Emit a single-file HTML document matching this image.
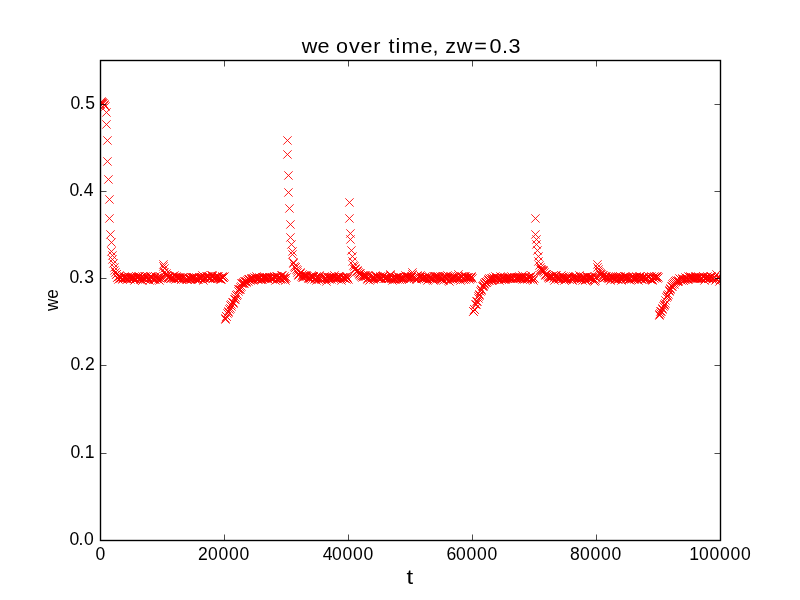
<!DOCTYPE html>
<html><head><meta charset="utf-8"><style>
html,body{margin:0;padding:0;background:#fff;width:800px;height:600px;overflow:hidden}
svg{display:block;will-change:transform}
text{font-family:"Liberation Sans",sans-serif;fill:#000}
</style></head><body>
<svg width="800" height="600" viewBox="0 0 800 600">
<rect width="800" height="600" fill="#fff"/>
<defs><clipPath id="ax"><rect x="100" y="60" width="620" height="480"/></clipPath></defs>
<path clip-path="url(#ax)" fill="none" stroke="#f00" stroke-width="0.88" d="M96.3 100.3l8.33 8.33m0 -8.33l-8.33 8.33M97.3 98.3l8.33 8.33m0 -8.33l-8.33 8.33M97.3 97.3l8.33 8.33m0 -8.33l-8.33 8.33M98.3 98.3l8.33 8.33m0 -8.33l-8.33 8.33M98.3 99.3l8.33 8.33m0 -8.33l-8.33 8.33M99.3 99.3l8.33 8.33m0 -8.33l-8.33 8.33M100.3 100.3l8.33 8.33m0 -8.33l-8.33 8.33M100.3 101.3l8.33 8.33m0 -8.33l-8.33 8.33M101.3 102.3l8.33 8.33m0 -8.33l-8.33 8.33M102.3 108.3l8.33 8.33m0 -8.33l-8.33 8.33M102.3 120.3l8.33 8.33m0 -8.33l-8.33 8.33M103.3 136.3l8.33 8.33m0 -8.33l-8.33 8.33M103.3 157.3l8.33 8.33m0 -8.33l-8.33 8.33M104.3 175.3l8.33 8.33m0 -8.33l-8.33 8.33M105.3 195.3l8.33 8.33m0 -8.33l-8.33 8.33M105.3 214.3l8.33 8.33m0 -8.33l-8.33 8.33M106.3 230.3l8.33 8.33m0 -8.33l-8.33 8.33M107.3 238.3l8.33 8.33m0 -8.33l-8.33 8.33M107.3 247.3l8.33 8.33m0 -8.33l-8.33 8.33M108.3 251.3l8.33 8.33m0 -8.33l-8.33 8.33M108.3 255.3l8.33 8.33m0 -8.33l-8.33 8.33M109.3 259.3l8.33 8.33m0 -8.33l-8.33 8.33M110.3 263.3l8.33 8.33m0 -8.33l-8.33 8.33M110.3 266.3l8.33 8.33m0 -8.33l-8.33 8.33M111.3 268.3l8.33 8.33m0 -8.33l-8.33 8.33M112.3 270.3l8.33 8.33m0 -8.33l-8.33 8.33M112.3 270.3l8.33 8.33m0 -8.33l-8.33 8.33M113.3 273.3l8.33 8.33m0 -8.33l-8.33 8.33M113.3 273.3l8.33 8.33m0 -8.33l-8.33 8.33M114.3 275.3l8.33 8.33m0 -8.33l-8.33 8.33M115.3 271.3l8.33 8.33m0 -8.33l-8.33 8.33M115.3 272.3l8.33 8.33m0 -8.33l-8.33 8.33M116.3 274.3l8.33 8.33m0 -8.33l-8.33 8.33M116.3 273.3l8.33 8.33m0 -8.33l-8.33 8.33M117.3 273.3l8.33 8.33m0 -8.33l-8.33 8.33M118.3 275.3l8.33 8.33m0 -8.33l-8.33 8.33M118.3 274.3l8.33 8.33m0 -8.33l-8.33 8.33M119.3 273.3l8.33 8.33m0 -8.33l-8.33 8.33M120.3 273.3l8.33 8.33m0 -8.33l-8.33 8.33M120.3 272.3l8.33 8.33m0 -8.33l-8.33 8.33M121.3 273.3l8.33 8.33m0 -8.33l-8.33 8.33M121.3 274.3l8.33 8.33m0 -8.33l-8.33 8.33M122.3 273.3l8.33 8.33m0 -8.33l-8.33 8.33M123.3 274.3l8.33 8.33m0 -8.33l-8.33 8.33M123.3 275.3l8.33 8.33m0 -8.33l-8.33 8.33M124.3 272.3l8.33 8.33m0 -8.33l-8.33 8.33M125.3 274.3l8.33 8.33m0 -8.33l-8.33 8.33M125.3 273.3l8.33 8.33m0 -8.33l-8.33 8.33M126.3 273.3l8.33 8.33m0 -8.33l-8.33 8.33M126.3 275.3l8.33 8.33m0 -8.33l-8.33 8.33M127.3 273.3l8.33 8.33m0 -8.33l-8.33 8.33M128.3 273.3l8.33 8.33m0 -8.33l-8.33 8.33M128.3 274.3l8.33 8.33m0 -8.33l-8.33 8.33M129.3 273.3l8.33 8.33m0 -8.33l-8.33 8.33M129.3 274.3l8.33 8.33m0 -8.33l-8.33 8.33M130.3 276.3l8.33 8.33m0 -8.33l-8.33 8.33M131.3 274.3l8.33 8.33m0 -8.33l-8.33 8.33M131.3 275.3l8.33 8.33m0 -8.33l-8.33 8.33M132.3 272.3l8.33 8.33m0 -8.33l-8.33 8.33M133.3 273.3l8.33 8.33m0 -8.33l-8.33 8.33M133.3 274.3l8.33 8.33m0 -8.33l-8.33 8.33M134.3 273.3l8.33 8.33m0 -8.33l-8.33 8.33M134.3 272.3l8.33 8.33m0 -8.33l-8.33 8.33M135.3 272.3l8.33 8.33m0 -8.33l-8.33 8.33M136.3 273.3l8.33 8.33m0 -8.33l-8.33 8.33M136.3 275.3l8.33 8.33m0 -8.33l-8.33 8.33M137.3 273.3l8.33 8.33m0 -8.33l-8.33 8.33M138.3 272.3l8.33 8.33m0 -8.33l-8.33 8.33M138.3 276.3l8.33 8.33m0 -8.33l-8.33 8.33M139.3 274.3l8.33 8.33m0 -8.33l-8.33 8.33M139.3 273.3l8.33 8.33m0 -8.33l-8.33 8.33M140.3 274.3l8.33 8.33m0 -8.33l-8.33 8.33M141.3 272.3l8.33 8.33m0 -8.33l-8.33 8.33M141.3 275.3l8.33 8.33m0 -8.33l-8.33 8.33M142.3 273.3l8.33 8.33m0 -8.33l-8.33 8.33M143.3 275.3l8.33 8.33m0 -8.33l-8.33 8.33M143.3 272.3l8.33 8.33m0 -8.33l-8.33 8.33M144.3 274.3l8.33 8.33m0 -8.33l-8.33 8.33M144.3 274.3l8.33 8.33m0 -8.33l-8.33 8.33M145.3 276.3l8.33 8.33m0 -8.33l-8.33 8.33M146.3 272.3l8.33 8.33m0 -8.33l-8.33 8.33M146.3 273.3l8.33 8.33m0 -8.33l-8.33 8.33M147.3 273.3l8.33 8.33m0 -8.33l-8.33 8.33M147.3 272.3l8.33 8.33m0 -8.33l-8.33 8.33M148.3 273.3l8.33 8.33m0 -8.33l-8.33 8.33M149.3 274.3l8.33 8.33m0 -8.33l-8.33 8.33M149.3 275.3l8.33 8.33m0 -8.33l-8.33 8.33M150.3 275.3l8.33 8.33m0 -8.33l-8.33 8.33M151.3 272.3l8.33 8.33m0 -8.33l-8.33 8.33M151.3 275.3l8.33 8.33m0 -8.33l-8.33 8.33M152.3 274.3l8.33 8.33m0 -8.33l-8.33 8.33M152.3 274.3l8.33 8.33m0 -8.33l-8.33 8.33M153.3 273.3l8.33 8.33m0 -8.33l-8.33 8.33M154.3 273.3l8.33 8.33m0 -8.33l-8.33 8.33M154.3 275.3l8.33 8.33m0 -8.33l-8.33 8.33M155.3 276.3l8.33 8.33m0 -8.33l-8.33 8.33M156.3 274.3l8.33 8.33m0 -8.33l-8.33 8.33M156.3 272.3l8.33 8.33m0 -8.33l-8.33 8.33M157.3 273.3l8.33 8.33m0 -8.33l-8.33 8.33M157.3 273.3l8.33 8.33m0 -8.33l-8.33 8.33M158.3 274.3l8.33 8.33m0 -8.33l-8.33 8.33M159.3 260.3l8.33 8.33m0 -8.33l-8.33 8.33M159.3 262.3l8.33 8.33m0 -8.33l-8.33 8.33M160.3 264.3l8.33 8.33m0 -8.33l-8.33 8.33M160.3 268.3l8.33 8.33m0 -8.33l-8.33 8.33M161.3 270.3l8.33 8.33m0 -8.33l-8.33 8.33M162.3 271.3l8.33 8.33m0 -8.33l-8.33 8.33M162.3 269.3l8.33 8.33m0 -8.33l-8.33 8.33M163.3 271.3l8.33 8.33m0 -8.33l-8.33 8.33M164.3 272.3l8.33 8.33m0 -8.33l-8.33 8.33M164.3 273.3l8.33 8.33m0 -8.33l-8.33 8.33M165.3 272.3l8.33 8.33m0 -8.33l-8.33 8.33M165.3 273.3l8.33 8.33m0 -8.33l-8.33 8.33M166.3 274.3l8.33 8.33m0 -8.33l-8.33 8.33M167.3 274.3l8.33 8.33m0 -8.33l-8.33 8.33M167.3 273.3l8.33 8.33m0 -8.33l-8.33 8.33M168.3 272.3l8.33 8.33m0 -8.33l-8.33 8.33M169.3 274.3l8.33 8.33m0 -8.33l-8.33 8.33M169.3 273.3l8.33 8.33m0 -8.33l-8.33 8.33M170.3 271.3l8.33 8.33m0 -8.33l-8.33 8.33M170.3 274.3l8.33 8.33m0 -8.33l-8.33 8.33M171.3 275.3l8.33 8.33m0 -8.33l-8.33 8.33M172.3 272.3l8.33 8.33m0 -8.33l-8.33 8.33M172.3 273.3l8.33 8.33m0 -8.33l-8.33 8.33M173.3 274.3l8.33 8.33m0 -8.33l-8.33 8.33M174.3 273.3l8.33 8.33m0 -8.33l-8.33 8.33M174.3 274.3l8.33 8.33m0 -8.33l-8.33 8.33M175.3 273.3l8.33 8.33m0 -8.33l-8.33 8.33M175.3 274.3l8.33 8.33m0 -8.33l-8.33 8.33M176.3 273.3l8.33 8.33m0 -8.33l-8.33 8.33M177.3 275.3l8.33 8.33m0 -8.33l-8.33 8.33M177.3 275.3l8.33 8.33m0 -8.33l-8.33 8.33M178.3 273.3l8.33 8.33m0 -8.33l-8.33 8.33M178.3 274.3l8.33 8.33m0 -8.33l-8.33 8.33M179.3 273.3l8.33 8.33m0 -8.33l-8.33 8.33M180.3 274.3l8.33 8.33m0 -8.33l-8.33 8.33M180.3 274.3l8.33 8.33m0 -8.33l-8.33 8.33M181.3 273.3l8.33 8.33m0 -8.33l-8.33 8.33M182.3 274.3l8.33 8.33m0 -8.33l-8.33 8.33M182.3 275.3l8.33 8.33m0 -8.33l-8.33 8.33M183.3 275.3l8.33 8.33m0 -8.33l-8.33 8.33M183.3 275.3l8.33 8.33m0 -8.33l-8.33 8.33M184.3 274.3l8.33 8.33m0 -8.33l-8.33 8.33M185.3 274.3l8.33 8.33m0 -8.33l-8.33 8.33M185.3 274.3l8.33 8.33m0 -8.33l-8.33 8.33M186.3 275.3l8.33 8.33m0 -8.33l-8.33 8.33M187.3 275.3l8.33 8.33m0 -8.33l-8.33 8.33M187.3 273.3l8.33 8.33m0 -8.33l-8.33 8.33M188.3 273.3l8.33 8.33m0 -8.33l-8.33 8.33M188.3 274.3l8.33 8.33m0 -8.33l-8.33 8.33M189.3 273.3l8.33 8.33m0 -8.33l-8.33 8.33M190.3 273.3l8.33 8.33m0 -8.33l-8.33 8.33M190.3 273.3l8.33 8.33m0 -8.33l-8.33 8.33M191.3 275.3l8.33 8.33m0 -8.33l-8.33 8.33M191.3 274.3l8.33 8.33m0 -8.33l-8.33 8.33M192.3 273.3l8.33 8.33m0 -8.33l-8.33 8.33M193.3 275.3l8.33 8.33m0 -8.33l-8.33 8.33M193.3 274.3l8.33 8.33m0 -8.33l-8.33 8.33M194.3 275.3l8.33 8.33m0 -8.33l-8.33 8.33M195.3 274.3l8.33 8.33m0 -8.33l-8.33 8.33M195.3 273.3l8.33 8.33m0 -8.33l-8.33 8.33M196.3 274.3l8.33 8.33m0 -8.33l-8.33 8.33M196.3 274.3l8.33 8.33m0 -8.33l-8.33 8.33M197.3 273.3l8.33 8.33m0 -8.33l-8.33 8.33M198.3 273.3l8.33 8.33m0 -8.33l-8.33 8.33M198.3 271.3l8.33 8.33m0 -8.33l-8.33 8.33M199.3 276.3l8.33 8.33m0 -8.33l-8.33 8.33M200.3 273.3l8.33 8.33m0 -8.33l-8.33 8.33M200.3 274.3l8.33 8.33m0 -8.33l-8.33 8.33M201.3 273.3l8.33 8.33m0 -8.33l-8.33 8.33M201.3 273.3l8.33 8.33m0 -8.33l-8.33 8.33M202.3 272.3l8.33 8.33m0 -8.33l-8.33 8.33M203.3 272.3l8.33 8.33m0 -8.33l-8.33 8.33M203.3 273.3l8.33 8.33m0 -8.33l-8.33 8.33M204.3 272.3l8.33 8.33m0 -8.33l-8.33 8.33M205.3 274.3l8.33 8.33m0 -8.33l-8.33 8.33M205.3 274.3l8.33 8.33m0 -8.33l-8.33 8.33M206.3 273.3l8.33 8.33m0 -8.33l-8.33 8.33M206.3 274.3l8.33 8.33m0 -8.33l-8.33 8.33M207.3 271.3l8.33 8.33m0 -8.33l-8.33 8.33M208.3 272.3l8.33 8.33m0 -8.33l-8.33 8.33M208.3 271.3l8.33 8.33m0 -8.33l-8.33 8.33M209.3 274.3l8.33 8.33m0 -8.33l-8.33 8.33M209.3 274.3l8.33 8.33m0 -8.33l-8.33 8.33M210.3 273.3l8.33 8.33m0 -8.33l-8.33 8.33M211.3 273.3l8.33 8.33m0 -8.33l-8.33 8.33M211.3 274.3l8.33 8.33m0 -8.33l-8.33 8.33M212.3 273.3l8.33 8.33m0 -8.33l-8.33 8.33M213.3 274.3l8.33 8.33m0 -8.33l-8.33 8.33M213.3 272.3l8.33 8.33m0 -8.33l-8.33 8.33M214.3 274.3l8.33 8.33m0 -8.33l-8.33 8.33M214.3 272.3l8.33 8.33m0 -8.33l-8.33 8.33M215.3 274.3l8.33 8.33m0 -8.33l-8.33 8.33M216.3 275.3l8.33 8.33m0 -8.33l-8.33 8.33M216.3 274.3l8.33 8.33m0 -8.33l-8.33 8.33M217.3 275.3l8.33 8.33m0 -8.33l-8.33 8.33M218.3 273.3l8.33 8.33m0 -8.33l-8.33 8.33M218.3 272.3l8.33 8.33m0 -8.33l-8.33 8.33M219.3 273.3l8.33 8.33m0 -8.33l-8.33 8.33M219.3 273.3l8.33 8.33m0 -8.33l-8.33 8.33M220.3 272.3l8.33 8.33m0 -8.33l-8.33 8.33M221.3 315.3l8.33 8.33m0 -8.33l-8.33 8.33M221.3 314.3l8.33 8.33m0 -8.33l-8.33 8.33M222.3 312.3l8.33 8.33m0 -8.33l-8.33 8.33M222.3 312.3l8.33 8.33m0 -8.33l-8.33 8.33M223.3 309.3l8.33 8.33m0 -8.33l-8.33 8.33M224.3 308.3l8.33 8.33m0 -8.33l-8.33 8.33M224.3 307.3l8.33 8.33m0 -8.33l-8.33 8.33M225.3 305.3l8.33 8.33m0 -8.33l-8.33 8.33M226.3 304.3l8.33 8.33m0 -8.33l-8.33 8.33M226.3 301.3l8.33 8.33m0 -8.33l-8.33 8.33M227.3 300.3l8.33 8.33m0 -8.33l-8.33 8.33M227.3 302.3l8.33 8.33m0 -8.33l-8.33 8.33M228.3 298.3l8.33 8.33m0 -8.33l-8.33 8.33M229.3 299.3l8.33 8.33m0 -8.33l-8.33 8.33M229.3 298.3l8.33 8.33m0 -8.33l-8.33 8.33M230.3 295.3l8.33 8.33m0 -8.33l-8.33 8.33M231.3 295.3l8.33 8.33m0 -8.33l-8.33 8.33M231.3 293.3l8.33 8.33m0 -8.33l-8.33 8.33M232.3 291.3l8.33 8.33m0 -8.33l-8.33 8.33M232.3 291.3l8.33 8.33m0 -8.33l-8.33 8.33M233.3 290.3l8.33 8.33m0 -8.33l-8.33 8.33M234.3 287.3l8.33 8.33m0 -8.33l-8.33 8.33M234.3 285.3l8.33 8.33m0 -8.33l-8.33 8.33M235.3 285.3l8.33 8.33m0 -8.33l-8.33 8.33M236.3 285.3l8.33 8.33m0 -8.33l-8.33 8.33M236.3 283.3l8.33 8.33m0 -8.33l-8.33 8.33M237.3 282.3l8.33 8.33m0 -8.33l-8.33 8.33M237.3 279.3l8.33 8.33m0 -8.33l-8.33 8.33M238.3 279.3l8.33 8.33m0 -8.33l-8.33 8.33M239.3 279.3l8.33 8.33m0 -8.33l-8.33 8.33M239.3 278.3l8.33 8.33m0 -8.33l-8.33 8.33M240.3 279.3l8.33 8.33m0 -8.33l-8.33 8.33M240.3 277.3l8.33 8.33m0 -8.33l-8.33 8.33M241.3 277.3l8.33 8.33m0 -8.33l-8.33 8.33M242.3 278.3l8.33 8.33m0 -8.33l-8.33 8.33M242.3 277.3l8.33 8.33m0 -8.33l-8.33 8.33M243.3 276.3l8.33 8.33m0 -8.33l-8.33 8.33M244.3 277.3l8.33 8.33m0 -8.33l-8.33 8.33M244.3 275.3l8.33 8.33m0 -8.33l-8.33 8.33M245.3 275.3l8.33 8.33m0 -8.33l-8.33 8.33M245.3 275.3l8.33 8.33m0 -8.33l-8.33 8.33M246.3 276.3l8.33 8.33m0 -8.33l-8.33 8.33M247.3 275.3l8.33 8.33m0 -8.33l-8.33 8.33M247.3 274.3l8.33 8.33m0 -8.33l-8.33 8.33M248.3 274.3l8.33 8.33m0 -8.33l-8.33 8.33M249.3 276.3l8.33 8.33m0 -8.33l-8.33 8.33M249.3 274.3l8.33 8.33m0 -8.33l-8.33 8.33M250.3 273.3l8.33 8.33m0 -8.33l-8.33 8.33M250.3 275.3l8.33 8.33m0 -8.33l-8.33 8.33M251.3 274.3l8.33 8.33m0 -8.33l-8.33 8.33M252.3 272.3l8.33 8.33m0 -8.33l-8.33 8.33M252.3 274.3l8.33 8.33m0 -8.33l-8.33 8.33M253.3 274.3l8.33 8.33m0 -8.33l-8.33 8.33M253.3 275.3l8.33 8.33m0 -8.33l-8.33 8.33M254.3 275.3l8.33 8.33m0 -8.33l-8.33 8.33M255.3 273.3l8.33 8.33m0 -8.33l-8.33 8.33M255.3 274.3l8.33 8.33m0 -8.33l-8.33 8.33M256.3 275.3l8.33 8.33m0 -8.33l-8.33 8.33M257.3 275.3l8.33 8.33m0 -8.33l-8.33 8.33M257.3 274.3l8.33 8.33m0 -8.33l-8.33 8.33M258.3 273.3l8.33 8.33m0 -8.33l-8.33 8.33M258.3 275.3l8.33 8.33m0 -8.33l-8.33 8.33M259.3 273.3l8.33 8.33m0 -8.33l-8.33 8.33M260.3 274.3l8.33 8.33m0 -8.33l-8.33 8.33M260.3 273.3l8.33 8.33m0 -8.33l-8.33 8.33M261.3 273.3l8.33 8.33m0 -8.33l-8.33 8.33M262.3 273.3l8.33 8.33m0 -8.33l-8.33 8.33M262.3 274.3l8.33 8.33m0 -8.33l-8.33 8.33M263.3 274.3l8.33 8.33m0 -8.33l-8.33 8.33M263.3 273.3l8.33 8.33m0 -8.33l-8.33 8.33M264.3 275.3l8.33 8.33m0 -8.33l-8.33 8.33M265.3 273.3l8.33 8.33m0 -8.33l-8.33 8.33M265.3 273.3l8.33 8.33m0 -8.33l-8.33 8.33M266.3 273.3l8.33 8.33m0 -8.33l-8.33 8.33M267.3 274.3l8.33 8.33m0 -8.33l-8.33 8.33M267.3 274.3l8.33 8.33m0 -8.33l-8.33 8.33M268.3 273.3l8.33 8.33m0 -8.33l-8.33 8.33M268.3 274.3l8.33 8.33m0 -8.33l-8.33 8.33M269.3 274.3l8.33 8.33m0 -8.33l-8.33 8.33M270.3 273.3l8.33 8.33m0 -8.33l-8.33 8.33M270.3 272.3l8.33 8.33m0 -8.33l-8.33 8.33M271.3 276.3l8.33 8.33m0 -8.33l-8.33 8.33M271.3 273.3l8.33 8.33m0 -8.33l-8.33 8.33M272.3 272.3l8.33 8.33m0 -8.33l-8.33 8.33M273.3 275.3l8.33 8.33m0 -8.33l-8.33 8.33M273.3 272.3l8.33 8.33m0 -8.33l-8.33 8.33M274.3 273.3l8.33 8.33m0 -8.33l-8.33 8.33M275.3 274.3l8.33 8.33m0 -8.33l-8.33 8.33M275.3 273.3l8.33 8.33m0 -8.33l-8.33 8.33M276.3 275.3l8.33 8.33m0 -8.33l-8.33 8.33M276.3 274.3l8.33 8.33m0 -8.33l-8.33 8.33M277.3 271.3l8.33 8.33m0 -8.33l-8.33 8.33M278.3 275.3l8.33 8.33m0 -8.33l-8.33 8.33M278.3 271.3l8.33 8.33m0 -8.33l-8.33 8.33M279.3 274.3l8.33 8.33m0 -8.33l-8.33 8.33M280.3 272.3l8.33 8.33m0 -8.33l-8.33 8.33M280.3 274.3l8.33 8.33m0 -8.33l-8.33 8.33M281.3 276.3l8.33 8.33m0 -8.33l-8.33 8.33M281.3 274.3l8.33 8.33m0 -8.33l-8.33 8.33M282.3 273.3l8.33 8.33m0 -8.33l-8.33 8.33M283.3 136.3l8.33 8.33m0 -8.33l-8.33 8.33M283.3 150.3l8.33 8.33m0 -8.33l-8.33 8.33M284.3 171.3l8.33 8.33m0 -8.33l-8.33 8.33M284.3 188.3l8.33 8.33m0 -8.33l-8.33 8.33M285.3 204.3l8.33 8.33m0 -8.33l-8.33 8.33M286.3 220.3l8.33 8.33m0 -8.33l-8.33 8.33M286.3 233.3l8.33 8.33m0 -8.33l-8.33 8.33M287.3 240.3l8.33 8.33m0 -8.33l-8.33 8.33M288.3 247.3l8.33 8.33m0 -8.33l-8.33 8.33M288.3 250.3l8.33 8.33m0 -8.33l-8.33 8.33M289.3 258.3l8.33 8.33m0 -8.33l-8.33 8.33M289.3 259.3l8.33 8.33m0 -8.33l-8.33 8.33M290.3 262.3l8.33 8.33m0 -8.33l-8.33 8.33M291.3 263.3l8.33 8.33m0 -8.33l-8.33 8.33M291.3 263.3l8.33 8.33m0 -8.33l-8.33 8.33M292.3 265.3l8.33 8.33m0 -8.33l-8.33 8.33M293.3 266.3l8.33 8.33m0 -8.33l-8.33 8.33M293.3 268.3l8.33 8.33m0 -8.33l-8.33 8.33M294.3 270.3l8.33 8.33m0 -8.33l-8.33 8.33M294.3 271.3l8.33 8.33m0 -8.33l-8.33 8.33M295.3 270.3l8.33 8.33m0 -8.33l-8.33 8.33M296.3 268.3l8.33 8.33m0 -8.33l-8.33 8.33M296.3 269.3l8.33 8.33m0 -8.33l-8.33 8.33M297.3 272.3l8.33 8.33m0 -8.33l-8.33 8.33M298.3 273.3l8.33 8.33m0 -8.33l-8.33 8.33M298.3 270.3l8.33 8.33m0 -8.33l-8.33 8.33M299.3 271.3l8.33 8.33m0 -8.33l-8.33 8.33M299.3 273.3l8.33 8.33m0 -8.33l-8.33 8.33M300.3 271.3l8.33 8.33m0 -8.33l-8.33 8.33M301.3 272.3l8.33 8.33m0 -8.33l-8.33 8.33M301.3 271.3l8.33 8.33m0 -8.33l-8.33 8.33M302.3 272.3l8.33 8.33m0 -8.33l-8.33 8.33M302.3 271.3l8.33 8.33m0 -8.33l-8.33 8.33M303.3 272.3l8.33 8.33m0 -8.33l-8.33 8.33M304.3 274.3l8.33 8.33m0 -8.33l-8.33 8.33M304.3 273.3l8.33 8.33m0 -8.33l-8.33 8.33M305.3 274.3l8.33 8.33m0 -8.33l-8.33 8.33M306.3 272.3l8.33 8.33m0 -8.33l-8.33 8.33M306.3 274.3l8.33 8.33m0 -8.33l-8.33 8.33M307.3 275.3l8.33 8.33m0 -8.33l-8.33 8.33M307.3 272.3l8.33 8.33m0 -8.33l-8.33 8.33M308.3 272.3l8.33 8.33m0 -8.33l-8.33 8.33M309.3 272.3l8.33 8.33m0 -8.33l-8.33 8.33M309.3 272.3l8.33 8.33m0 -8.33l-8.33 8.33M310.3 275.3l8.33 8.33m0 -8.33l-8.33 8.33M311.3 274.3l8.33 8.33m0 -8.33l-8.33 8.33M311.3 274.3l8.33 8.33m0 -8.33l-8.33 8.33M312.3 273.3l8.33 8.33m0 -8.33l-8.33 8.33M312.3 276.3l8.33 8.33m0 -8.33l-8.33 8.33M313.3 273.3l8.33 8.33m0 -8.33l-8.33 8.33M314.3 275.3l8.33 8.33m0 -8.33l-8.33 8.33M314.3 273.3l8.33 8.33m0 -8.33l-8.33 8.33M315.3 273.3l8.33 8.33m0 -8.33l-8.33 8.33M315.3 271.3l8.33 8.33m0 -8.33l-8.33 8.33M316.3 274.3l8.33 8.33m0 -8.33l-8.33 8.33M317.3 275.3l8.33 8.33m0 -8.33l-8.33 8.33M317.3 273.3l8.33 8.33m0 -8.33l-8.33 8.33M318.3 274.3l8.33 8.33m0 -8.33l-8.33 8.33M319.3 273.3l8.33 8.33m0 -8.33l-8.33 8.33M319.3 273.3l8.33 8.33m0 -8.33l-8.33 8.33M320.3 272.3l8.33 8.33m0 -8.33l-8.33 8.33M320.3 274.3l8.33 8.33m0 -8.33l-8.33 8.33M321.3 274.3l8.33 8.33m0 -8.33l-8.33 8.33M322.3 277.3l8.33 8.33m0 -8.33l-8.33 8.33M322.3 275.3l8.33 8.33m0 -8.33l-8.33 8.33M323.3 272.3l8.33 8.33m0 -8.33l-8.33 8.33M324.3 274.3l8.33 8.33m0 -8.33l-8.33 8.33M324.3 274.3l8.33 8.33m0 -8.33l-8.33 8.33M325.3 275.3l8.33 8.33m0 -8.33l-8.33 8.33M325.3 273.3l8.33 8.33m0 -8.33l-8.33 8.33M326.3 273.3l8.33 8.33m0 -8.33l-8.33 8.33M327.3 275.3l8.33 8.33m0 -8.33l-8.33 8.33M327.3 273.3l8.33 8.33m0 -8.33l-8.33 8.33M328.3 273.3l8.33 8.33m0 -8.33l-8.33 8.33M329.3 273.3l8.33 8.33m0 -8.33l-8.33 8.33M329.3 274.3l8.33 8.33m0 -8.33l-8.33 8.33M330.3 271.3l8.33 8.33m0 -8.33l-8.33 8.33M330.3 273.3l8.33 8.33m0 -8.33l-8.33 8.33M331.3 274.3l8.33 8.33m0 -8.33l-8.33 8.33M332.3 274.3l8.33 8.33m0 -8.33l-8.33 8.33M332.3 274.3l8.33 8.33m0 -8.33l-8.33 8.33M333.3 273.3l8.33 8.33m0 -8.33l-8.33 8.33M333.3 274.3l8.33 8.33m0 -8.33l-8.33 8.33M334.3 272.3l8.33 8.33m0 -8.33l-8.33 8.33M335.3 273.3l8.33 8.33m0 -8.33l-8.33 8.33M335.3 272.3l8.33 8.33m0 -8.33l-8.33 8.33M336.3 273.3l8.33 8.33m0 -8.33l-8.33 8.33M337.3 274.3l8.33 8.33m0 -8.33l-8.33 8.33M337.3 276.3l8.33 8.33m0 -8.33l-8.33 8.33M338.3 273.3l8.33 8.33m0 -8.33l-8.33 8.33M338.3 273.3l8.33 8.33m0 -8.33l-8.33 8.33M339.3 273.3l8.33 8.33m0 -8.33l-8.33 8.33M340.3 273.3l8.33 8.33m0 -8.33l-8.33 8.33M340.3 274.3l8.33 8.33m0 -8.33l-8.33 8.33M341.3 274.3l8.33 8.33m0 -8.33l-8.33 8.33M342.3 275.3l8.33 8.33m0 -8.33l-8.33 8.33M342.3 272.3l8.33 8.33m0 -8.33l-8.33 8.33M343.3 273.3l8.33 8.33m0 -8.33l-8.33 8.33M343.3 274.3l8.33 8.33m0 -8.33l-8.33 8.33M344.3 275.3l8.33 8.33m0 -8.33l-8.33 8.33M345.3 198.3l8.33 8.33m0 -8.33l-8.33 8.33M345.3 214.3l8.33 8.33m0 -8.33l-8.33 8.33M346.3 229.3l8.33 8.33m0 -8.33l-8.33 8.33M346.3 235.3l8.33 8.33m0 -8.33l-8.33 8.33M347.3 246.3l8.33 8.33m0 -8.33l-8.33 8.33M348.3 252.3l8.33 8.33m0 -8.33l-8.33 8.33M348.3 257.3l8.33 8.33m0 -8.33l-8.33 8.33M349.3 261.3l8.33 8.33m0 -8.33l-8.33 8.33M350.3 262.3l8.33 8.33m0 -8.33l-8.33 8.33M350.3 265.3l8.33 8.33m0 -8.33l-8.33 8.33M351.3 265.3l8.33 8.33m0 -8.33l-8.33 8.33M351.3 264.3l8.33 8.33m0 -8.33l-8.33 8.33M352.3 267.3l8.33 8.33m0 -8.33l-8.33 8.33M353.3 266.3l8.33 8.33m0 -8.33l-8.33 8.33M353.3 267.3l8.33 8.33m0 -8.33l-8.33 8.33M354.3 268.3l8.33 8.33m0 -8.33l-8.33 8.33M355.3 269.3l8.33 8.33m0 -8.33l-8.33 8.33M355.3 270.3l8.33 8.33m0 -8.33l-8.33 8.33M356.3 269.3l8.33 8.33m0 -8.33l-8.33 8.33M356.3 271.3l8.33 8.33m0 -8.33l-8.33 8.33M357.3 272.3l8.33 8.33m0 -8.33l-8.33 8.33M358.3 271.3l8.33 8.33m0 -8.33l-8.33 8.33M358.3 273.3l8.33 8.33m0 -8.33l-8.33 8.33M359.3 271.3l8.33 8.33m0 -8.33l-8.33 8.33M360.3 271.3l8.33 8.33m0 -8.33l-8.33 8.33M360.3 272.3l8.33 8.33m0 -8.33l-8.33 8.33M361.3 272.3l8.33 8.33m0 -8.33l-8.33 8.33M361.3 271.3l8.33 8.33m0 -8.33l-8.33 8.33M362.3 272.3l8.33 8.33m0 -8.33l-8.33 8.33M363.3 275.3l8.33 8.33m0 -8.33l-8.33 8.33M363.3 274.3l8.33 8.33m0 -8.33l-8.33 8.33M364.3 271.3l8.33 8.33m0 -8.33l-8.33 8.33M364.3 273.3l8.33 8.33m0 -8.33l-8.33 8.33M365.3 276.3l8.33 8.33m0 -8.33l-8.33 8.33M366.3 275.3l8.33 8.33m0 -8.33l-8.33 8.33M366.3 273.3l8.33 8.33m0 -8.33l-8.33 8.33M367.3 274.3l8.33 8.33m0 -8.33l-8.33 8.33M368.3 273.3l8.33 8.33m0 -8.33l-8.33 8.33M368.3 273.3l8.33 8.33m0 -8.33l-8.33 8.33M369.3 273.3l8.33 8.33m0 -8.33l-8.33 8.33M369.3 275.3l8.33 8.33m0 -8.33l-8.33 8.33M370.3 273.3l8.33 8.33m0 -8.33l-8.33 8.33M371.3 271.3l8.33 8.33m0 -8.33l-8.33 8.33M371.3 274.3l8.33 8.33m0 -8.33l-8.33 8.33M372.3 272.3l8.33 8.33m0 -8.33l-8.33 8.33M373.3 272.3l8.33 8.33m0 -8.33l-8.33 8.33M373.3 273.3l8.33 8.33m0 -8.33l-8.33 8.33M374.3 273.3l8.33 8.33m0 -8.33l-8.33 8.33M374.3 274.3l8.33 8.33m0 -8.33l-8.33 8.33M375.3 274.3l8.33 8.33m0 -8.33l-8.33 8.33M376.3 272.3l8.33 8.33m0 -8.33l-8.33 8.33M376.3 274.3l8.33 8.33m0 -8.33l-8.33 8.33M377.3 274.3l8.33 8.33m0 -8.33l-8.33 8.33M377.3 274.3l8.33 8.33m0 -8.33l-8.33 8.33M378.3 272.3l8.33 8.33m0 -8.33l-8.33 8.33M379.3 272.3l8.33 8.33m0 -8.33l-8.33 8.33M379.3 272.3l8.33 8.33m0 -8.33l-8.33 8.33M380.3 274.3l8.33 8.33m0 -8.33l-8.33 8.33M381.3 274.3l8.33 8.33m0 -8.33l-8.33 8.33M381.3 273.3l8.33 8.33m0 -8.33l-8.33 8.33M382.3 274.3l8.33 8.33m0 -8.33l-8.33 8.33M382.3 273.3l8.33 8.33m0 -8.33l-8.33 8.33M383.3 273.3l8.33 8.33m0 -8.33l-8.33 8.33M384.3 274.3l8.33 8.33m0 -8.33l-8.33 8.33M384.3 274.3l8.33 8.33m0 -8.33l-8.33 8.33M385.3 274.3l8.33 8.33m0 -8.33l-8.33 8.33M386.3 271.3l8.33 8.33m0 -8.33l-8.33 8.33M386.3 270.3l8.33 8.33m0 -8.33l-8.33 8.33M387.3 274.3l8.33 8.33m0 -8.33l-8.33 8.33M387.3 274.3l8.33 8.33m0 -8.33l-8.33 8.33M388.3 276.3l8.33 8.33m0 -8.33l-8.33 8.33M389.3 273.3l8.33 8.33m0 -8.33l-8.33 8.33M389.3 274.3l8.33 8.33m0 -8.33l-8.33 8.33M390.3 275.3l8.33 8.33m0 -8.33l-8.33 8.33M391.3 273.3l8.33 8.33m0 -8.33l-8.33 8.33M391.3 275.3l8.33 8.33m0 -8.33l-8.33 8.33M392.3 274.3l8.33 8.33m0 -8.33l-8.33 8.33M392.3 273.3l8.33 8.33m0 -8.33l-8.33 8.33M393.3 275.3l8.33 8.33m0 -8.33l-8.33 8.33M394.3 273.3l8.33 8.33m0 -8.33l-8.33 8.33M394.3 272.3l8.33 8.33m0 -8.33l-8.33 8.33M395.3 275.3l8.33 8.33m0 -8.33l-8.33 8.33M395.3 275.3l8.33 8.33m0 -8.33l-8.33 8.33M396.3 273.3l8.33 8.33m0 -8.33l-8.33 8.33M397.3 274.3l8.33 8.33m0 -8.33l-8.33 8.33M397.3 275.3l8.33 8.33m0 -8.33l-8.33 8.33M398.3 274.3l8.33 8.33m0 -8.33l-8.33 8.33M399.3 274.3l8.33 8.33m0 -8.33l-8.33 8.33M399.3 274.3l8.33 8.33m0 -8.33l-8.33 8.33M400.3 273.3l8.33 8.33m0 -8.33l-8.33 8.33M400.3 273.3l8.33 8.33m0 -8.33l-8.33 8.33M401.3 271.3l8.33 8.33m0 -8.33l-8.33 8.33M402.3 272.3l8.33 8.33m0 -8.33l-8.33 8.33M402.3 273.3l8.33 8.33m0 -8.33l-8.33 8.33M403.3 272.3l8.33 8.33m0 -8.33l-8.33 8.33M404.3 272.3l8.33 8.33m0 -8.33l-8.33 8.33M404.3 273.3l8.33 8.33m0 -8.33l-8.33 8.33M405.3 275.3l8.33 8.33m0 -8.33l-8.33 8.33M405.3 273.3l8.33 8.33m0 -8.33l-8.33 8.33M406.3 273.3l8.33 8.33m0 -8.33l-8.33 8.33M407.3 272.3l8.33 8.33m0 -8.33l-8.33 8.33M407.3 273.3l8.33 8.33m0 -8.33l-8.33 8.33M408.3 268.3l8.33 8.33m0 -8.33l-8.33 8.33M408.3 270.3l8.33 8.33m0 -8.33l-8.33 8.33M409.3 273.3l8.33 8.33m0 -8.33l-8.33 8.33M410.3 274.3l8.33 8.33m0 -8.33l-8.33 8.33M410.3 274.3l8.33 8.33m0 -8.33l-8.33 8.33M411.3 273.3l8.33 8.33m0 -8.33l-8.33 8.33M412.3 272.3l8.33 8.33m0 -8.33l-8.33 8.33M412.3 275.3l8.33 8.33m0 -8.33l-8.33 8.33M413.3 271.3l8.33 8.33m0 -8.33l-8.33 8.33M413.3 273.3l8.33 8.33m0 -8.33l-8.33 8.33M414.3 274.3l8.33 8.33m0 -8.33l-8.33 8.33M415.3 273.3l8.33 8.33m0 -8.33l-8.33 8.33M415.3 273.3l8.33 8.33m0 -8.33l-8.33 8.33M416.3 271.3l8.33 8.33m0 -8.33l-8.33 8.33M417.3 272.3l8.33 8.33m0 -8.33l-8.33 8.33M417.3 274.3l8.33 8.33m0 -8.33l-8.33 8.33M418.3 274.3l8.33 8.33m0 -8.33l-8.33 8.33M418.3 274.3l8.33 8.33m0 -8.33l-8.33 8.33M419.3 274.3l8.33 8.33m0 -8.33l-8.33 8.33M420.3 273.3l8.33 8.33m0 -8.33l-8.33 8.33M420.3 274.3l8.33 8.33m0 -8.33l-8.33 8.33M421.3 272.3l8.33 8.33m0 -8.33l-8.33 8.33M422.3 274.3l8.33 8.33m0 -8.33l-8.33 8.33M422.3 274.3l8.33 8.33m0 -8.33l-8.33 8.33M423.3 272.3l8.33 8.33m0 -8.33l-8.33 8.33M423.3 276.3l8.33 8.33m0 -8.33l-8.33 8.33M424.3 275.3l8.33 8.33m0 -8.33l-8.33 8.33M425.3 273.3l8.33 8.33m0 -8.33l-8.33 8.33M425.3 274.3l8.33 8.33m0 -8.33l-8.33 8.33M426.3 274.3l8.33 8.33m0 -8.33l-8.33 8.33M426.3 273.3l8.33 8.33m0 -8.33l-8.33 8.33M427.3 274.3l8.33 8.33m0 -8.33l-8.33 8.33M428.3 274.3l8.33 8.33m0 -8.33l-8.33 8.33M428.3 275.3l8.33 8.33m0 -8.33l-8.33 8.33M429.3 276.3l8.33 8.33m0 -8.33l-8.33 8.33M430.3 272.3l8.33 8.33m0 -8.33l-8.33 8.33M430.3 275.3l8.33 8.33m0 -8.33l-8.33 8.33M431.3 274.3l8.33 8.33m0 -8.33l-8.33 8.33M431.3 272.3l8.33 8.33m0 -8.33l-8.33 8.33M432.3 272.3l8.33 8.33m0 -8.33l-8.33 8.33M433.3 272.3l8.33 8.33m0 -8.33l-8.33 8.33M433.3 274.3l8.33 8.33m0 -8.33l-8.33 8.33M434.3 272.3l8.33 8.33m0 -8.33l-8.33 8.33M435.3 273.3l8.33 8.33m0 -8.33l-8.33 8.33M435.3 274.3l8.33 8.33m0 -8.33l-8.33 8.33M436.3 274.3l8.33 8.33m0 -8.33l-8.33 8.33M436.3 272.3l8.33 8.33m0 -8.33l-8.33 8.33M437.3 275.3l8.33 8.33m0 -8.33l-8.33 8.33M438.3 274.3l8.33 8.33m0 -8.33l-8.33 8.33M438.3 274.3l8.33 8.33m0 -8.33l-8.33 8.33M439.3 276.3l8.33 8.33m0 -8.33l-8.33 8.33M439.3 272.3l8.33 8.33m0 -8.33l-8.33 8.33M440.3 273.3l8.33 8.33m0 -8.33l-8.33 8.33M441.3 274.3l8.33 8.33m0 -8.33l-8.33 8.33M441.3 272.3l8.33 8.33m0 -8.33l-8.33 8.33M442.3 275.3l8.33 8.33m0 -8.33l-8.33 8.33M443.3 274.3l8.33 8.33m0 -8.33l-8.33 8.33M443.3 271.3l8.33 8.33m0 -8.33l-8.33 8.33M444.3 272.3l8.33 8.33m0 -8.33l-8.33 8.33M444.3 276.3l8.33 8.33m0 -8.33l-8.33 8.33M445.3 277.3l8.33 8.33m0 -8.33l-8.33 8.33M446.3 275.3l8.33 8.33m0 -8.33l-8.33 8.33M446.3 272.3l8.33 8.33m0 -8.33l-8.33 8.33M447.3 274.3l8.33 8.33m0 -8.33l-8.33 8.33M448.3 274.3l8.33 8.33m0 -8.33l-8.33 8.33M448.3 273.3l8.33 8.33m0 -8.33l-8.33 8.33M449.3 275.3l8.33 8.33m0 -8.33l-8.33 8.33M449.3 273.3l8.33 8.33m0 -8.33l-8.33 8.33M450.3 273.3l8.33 8.33m0 -8.33l-8.33 8.33M451.3 273.3l8.33 8.33m0 -8.33l-8.33 8.33M451.3 273.3l8.33 8.33m0 -8.33l-8.33 8.33M452.3 274.3l8.33 8.33m0 -8.33l-8.33 8.33M453.3 273.3l8.33 8.33m0 -8.33l-8.33 8.33M453.3 274.3l8.33 8.33m0 -8.33l-8.33 8.33M454.3 272.3l8.33 8.33m0 -8.33l-8.33 8.33M454.3 270.3l8.33 8.33m0 -8.33l-8.33 8.33M455.3 274.3l8.33 8.33m0 -8.33l-8.33 8.33M456.3 276.3l8.33 8.33m0 -8.33l-8.33 8.33M456.3 274.3l8.33 8.33m0 -8.33l-8.33 8.33M457.3 273.3l8.33 8.33m0 -8.33l-8.33 8.33M457.3 272.3l8.33 8.33m0 -8.33l-8.33 8.33M458.3 272.3l8.33 8.33m0 -8.33l-8.33 8.33M459.3 275.3l8.33 8.33m0 -8.33l-8.33 8.33M459.3 275.3l8.33 8.33m0 -8.33l-8.33 8.33M460.3 272.3l8.33 8.33m0 -8.33l-8.33 8.33M461.3 275.3l8.33 8.33m0 -8.33l-8.33 8.33M461.3 272.3l8.33 8.33m0 -8.33l-8.33 8.33M462.3 274.3l8.33 8.33m0 -8.33l-8.33 8.33M462.3 273.3l8.33 8.33m0 -8.33l-8.33 8.33M463.3 273.3l8.33 8.33m0 -8.33l-8.33 8.33M464.3 273.3l8.33 8.33m0 -8.33l-8.33 8.33M464.3 273.3l8.33 8.33m0 -8.33l-8.33 8.33M465.3 275.3l8.33 8.33m0 -8.33l-8.33 8.33M466.3 273.3l8.33 8.33m0 -8.33l-8.33 8.33M466.3 274.3l8.33 8.33m0 -8.33l-8.33 8.33M467.3 273.3l8.33 8.33m0 -8.33l-8.33 8.33M467.3 272.3l8.33 8.33m0 -8.33l-8.33 8.33M468.3 274.3l8.33 8.33m0 -8.33l-8.33 8.33M469.3 307.3l8.33 8.33m0 -8.33l-8.33 8.33M469.3 307.3l8.33 8.33m0 -8.33l-8.33 8.33M470.3 305.3l8.33 8.33m0 -8.33l-8.33 8.33M470.3 305.3l8.33 8.33m0 -8.33l-8.33 8.33M471.3 300.3l8.33 8.33m0 -8.33l-8.33 8.33M472.3 300.3l8.33 8.33m0 -8.33l-8.33 8.33M472.3 297.3l8.33 8.33m0 -8.33l-8.33 8.33M473.3 297.3l8.33 8.33m0 -8.33l-8.33 8.33M474.3 294.3l8.33 8.33m0 -8.33l-8.33 8.33M474.3 292.3l8.33 8.33m0 -8.33l-8.33 8.33M475.3 290.3l8.33 8.33m0 -8.33l-8.33 8.33M475.3 291.3l8.33 8.33m0 -8.33l-8.33 8.33M476.3 287.3l8.33 8.33m0 -8.33l-8.33 8.33M477.3 286.3l8.33 8.33m0 -8.33l-8.33 8.33M477.3 285.3l8.33 8.33m0 -8.33l-8.33 8.33M478.3 282.3l8.33 8.33m0 -8.33l-8.33 8.33M479.3 282.3l8.33 8.33m0 -8.33l-8.33 8.33M479.3 281.3l8.33 8.33m0 -8.33l-8.33 8.33M480.3 280.3l8.33 8.33m0 -8.33l-8.33 8.33M480.3 279.3l8.33 8.33m0 -8.33l-8.33 8.33M481.3 278.3l8.33 8.33m0 -8.33l-8.33 8.33M482.3 278.3l8.33 8.33m0 -8.33l-8.33 8.33M482.3 278.3l8.33 8.33m0 -8.33l-8.33 8.33M483.3 277.3l8.33 8.33m0 -8.33l-8.33 8.33M484.3 276.3l8.33 8.33m0 -8.33l-8.33 8.33M484.3 275.3l8.33 8.33m0 -8.33l-8.33 8.33M485.3 276.3l8.33 8.33m0 -8.33l-8.33 8.33M485.3 274.3l8.33 8.33m0 -8.33l-8.33 8.33M486.3 275.3l8.33 8.33m0 -8.33l-8.33 8.33M487.3 276.3l8.33 8.33m0 -8.33l-8.33 8.33M487.3 274.3l8.33 8.33m0 -8.33l-8.33 8.33M488.3 276.3l8.33 8.33m0 -8.33l-8.33 8.33M488.3 274.3l8.33 8.33m0 -8.33l-8.33 8.33M489.3 273.3l8.33 8.33m0 -8.33l-8.33 8.33M490.3 275.3l8.33 8.33m0 -8.33l-8.33 8.33M490.3 274.3l8.33 8.33m0 -8.33l-8.33 8.33M491.3 272.3l8.33 8.33m0 -8.33l-8.33 8.33M492.3 274.3l8.33 8.33m0 -8.33l-8.33 8.33M492.3 274.3l8.33 8.33m0 -8.33l-8.33 8.33M493.3 273.3l8.33 8.33m0 -8.33l-8.33 8.33M493.3 274.3l8.33 8.33m0 -8.33l-8.33 8.33M494.3 274.3l8.33 8.33m0 -8.33l-8.33 8.33M495.3 274.3l8.33 8.33m0 -8.33l-8.33 8.33M495.3 276.3l8.33 8.33m0 -8.33l-8.33 8.33M496.3 272.3l8.33 8.33m0 -8.33l-8.33 8.33M497.3 275.3l8.33 8.33m0 -8.33l-8.33 8.33M497.3 275.3l8.33 8.33m0 -8.33l-8.33 8.33M498.3 273.3l8.33 8.33m0 -8.33l-8.33 8.33M498.3 274.3l8.33 8.33m0 -8.33l-8.33 8.33M499.3 275.3l8.33 8.33m0 -8.33l-8.33 8.33M500.3 273.3l8.33 8.33m0 -8.33l-8.33 8.33M500.3 275.3l8.33 8.33m0 -8.33l-8.33 8.33M501.3 274.3l8.33 8.33m0 -8.33l-8.33 8.33M501.3 275.3l8.33 8.33m0 -8.33l-8.33 8.33M502.3 274.3l8.33 8.33m0 -8.33l-8.33 8.33M503.3 273.3l8.33 8.33m0 -8.33l-8.33 8.33M503.3 274.3l8.33 8.33m0 -8.33l-8.33 8.33M504.3 273.3l8.33 8.33m0 -8.33l-8.33 8.33M505.3 273.3l8.33 8.33m0 -8.33l-8.33 8.33M505.3 274.3l8.33 8.33m0 -8.33l-8.33 8.33M506.3 274.3l8.33 8.33m0 -8.33l-8.33 8.33M506.3 274.3l8.33 8.33m0 -8.33l-8.33 8.33M507.3 272.3l8.33 8.33m0 -8.33l-8.33 8.33M508.3 274.3l8.33 8.33m0 -8.33l-8.33 8.33M508.3 273.3l8.33 8.33m0 -8.33l-8.33 8.33M509.3 274.3l8.33 8.33m0 -8.33l-8.33 8.33M510.3 273.3l8.33 8.33m0 -8.33l-8.33 8.33M510.3 273.3l8.33 8.33m0 -8.33l-8.33 8.33M511.3 274.3l8.33 8.33m0 -8.33l-8.33 8.33M511.3 274.3l8.33 8.33m0 -8.33l-8.33 8.33M512.3 274.3l8.33 8.33m0 -8.33l-8.33 8.33M513.3 274.3l8.33 8.33m0 -8.33l-8.33 8.33M513.3 273.3l8.33 8.33m0 -8.33l-8.33 8.33M514.3 273.3l8.33 8.33m0 -8.33l-8.33 8.33M515.3 273.3l8.33 8.33m0 -8.33l-8.33 8.33M515.3 274.3l8.33 8.33m0 -8.33l-8.33 8.33M516.3 274.3l8.33 8.33m0 -8.33l-8.33 8.33M516.3 273.3l8.33 8.33m0 -8.33l-8.33 8.33M517.3 273.3l8.33 8.33m0 -8.33l-8.33 8.33M518.3 275.3l8.33 8.33m0 -8.33l-8.33 8.33M518.3 271.3l8.33 8.33m0 -8.33l-8.33 8.33M519.3 274.3l8.33 8.33m0 -8.33l-8.33 8.33M519.3 273.3l8.33 8.33m0 -8.33l-8.33 8.33M520.3 275.3l8.33 8.33m0 -8.33l-8.33 8.33M521.3 274.3l8.33 8.33m0 -8.33l-8.33 8.33M521.3 272.3l8.33 8.33m0 -8.33l-8.33 8.33M522.3 274.3l8.33 8.33m0 -8.33l-8.33 8.33M523.3 274.3l8.33 8.33m0 -8.33l-8.33 8.33M523.3 275.3l8.33 8.33m0 -8.33l-8.33 8.33M524.3 273.3l8.33 8.33m0 -8.33l-8.33 8.33M524.3 273.3l8.33 8.33m0 -8.33l-8.33 8.33M525.3 273.3l8.33 8.33m0 -8.33l-8.33 8.33M526.3 273.3l8.33 8.33m0 -8.33l-8.33 8.33M526.3 275.3l8.33 8.33m0 -8.33l-8.33 8.33M527.3 271.3l8.33 8.33m0 -8.33l-8.33 8.33M528.3 274.3l8.33 8.33m0 -8.33l-8.33 8.33M528.3 274.3l8.33 8.33m0 -8.33l-8.33 8.33M529.3 273.3l8.33 8.33m0 -8.33l-8.33 8.33M529.3 276.3l8.33 8.33m0 -8.33l-8.33 8.33M530.3 274.3l8.33 8.33m0 -8.33l-8.33 8.33M531.3 214.3l8.33 8.33m0 -8.33l-8.33 8.33M531.3 230.3l8.33 8.33m0 -8.33l-8.33 8.33M532.3 235.3l8.33 8.33m0 -8.33l-8.33 8.33M532.3 240.3l8.33 8.33m0 -8.33l-8.33 8.33M533.3 246.3l8.33 8.33m0 -8.33l-8.33 8.33M534.3 252.3l8.33 8.33m0 -8.33l-8.33 8.33M534.3 257.3l8.33 8.33m0 -8.33l-8.33 8.33M535.3 261.3l8.33 8.33m0 -8.33l-8.33 8.33M536.3 263.3l8.33 8.33m0 -8.33l-8.33 8.33M536.3 265.3l8.33 8.33m0 -8.33l-8.33 8.33M537.3 266.3l8.33 8.33m0 -8.33l-8.33 8.33M537.3 265.3l8.33 8.33m0 -8.33l-8.33 8.33M538.3 266.3l8.33 8.33m0 -8.33l-8.33 8.33M539.3 266.3l8.33 8.33m0 -8.33l-8.33 8.33M539.3 267.3l8.33 8.33m0 -8.33l-8.33 8.33M540.3 268.3l8.33 8.33m0 -8.33l-8.33 8.33M541.3 270.3l8.33 8.33m0 -8.33l-8.33 8.33M541.3 271.3l8.33 8.33m0 -8.33l-8.33 8.33M542.3 270.3l8.33 8.33m0 -8.33l-8.33 8.33M542.3 270.3l8.33 8.33m0 -8.33l-8.33 8.33M543.3 271.3l8.33 8.33m0 -8.33l-8.33 8.33M544.3 273.3l8.33 8.33m0 -8.33l-8.33 8.33M544.3 272.3l8.33 8.33m0 -8.33l-8.33 8.33M545.3 274.3l8.33 8.33m0 -8.33l-8.33 8.33M546.3 272.3l8.33 8.33m0 -8.33l-8.33 8.33M546.3 273.3l8.33 8.33m0 -8.33l-8.33 8.33M547.3 273.3l8.33 8.33m0 -8.33l-8.33 8.33M547.3 272.3l8.33 8.33m0 -8.33l-8.33 8.33M548.3 272.3l8.33 8.33m0 -8.33l-8.33 8.33M549.3 271.3l8.33 8.33m0 -8.33l-8.33 8.33M549.3 274.3l8.33 8.33m0 -8.33l-8.33 8.33M550.3 276.3l8.33 8.33m0 -8.33l-8.33 8.33M550.3 272.3l8.33 8.33m0 -8.33l-8.33 8.33M551.3 271.3l8.33 8.33m0 -8.33l-8.33 8.33M552.3 271.3l8.33 8.33m0 -8.33l-8.33 8.33M552.3 273.3l8.33 8.33m0 -8.33l-8.33 8.33M553.3 273.3l8.33 8.33m0 -8.33l-8.33 8.33M554.3 273.3l8.33 8.33m0 -8.33l-8.33 8.33M554.3 275.3l8.33 8.33m0 -8.33l-8.33 8.33M555.3 274.3l8.33 8.33m0 -8.33l-8.33 8.33M555.3 273.3l8.33 8.33m0 -8.33l-8.33 8.33M556.3 274.3l8.33 8.33m0 -8.33l-8.33 8.33M557.3 271.3l8.33 8.33m0 -8.33l-8.33 8.33M557.3 275.3l8.33 8.33m0 -8.33l-8.33 8.33M558.3 274.3l8.33 8.33m0 -8.33l-8.33 8.33M559.3 272.3l8.33 8.33m0 -8.33l-8.33 8.33M559.3 274.3l8.33 8.33m0 -8.33l-8.33 8.33M560.3 274.3l8.33 8.33m0 -8.33l-8.33 8.33M560.3 276.3l8.33 8.33m0 -8.33l-8.33 8.33M561.3 274.3l8.33 8.33m0 -8.33l-8.33 8.33M562.3 275.3l8.33 8.33m0 -8.33l-8.33 8.33M562.3 274.3l8.33 8.33m0 -8.33l-8.33 8.33M563.3 274.3l8.33 8.33m0 -8.33l-8.33 8.33M563.3 273.3l8.33 8.33m0 -8.33l-8.33 8.33M564.3 272.3l8.33 8.33m0 -8.33l-8.33 8.33M565.3 273.3l8.33 8.33m0 -8.33l-8.33 8.33M565.3 273.3l8.33 8.33m0 -8.33l-8.33 8.33M566.3 274.3l8.33 8.33m0 -8.33l-8.33 8.33M567.3 274.3l8.33 8.33m0 -8.33l-8.33 8.33M567.3 275.3l8.33 8.33m0 -8.33l-8.33 8.33M568.3 276.3l8.33 8.33m0 -8.33l-8.33 8.33M568.3 273.3l8.33 8.33m0 -8.33l-8.33 8.33M569.3 272.3l8.33 8.33m0 -8.33l-8.33 8.33M570.3 273.3l8.33 8.33m0 -8.33l-8.33 8.33M570.3 274.3l8.33 8.33m0 -8.33l-8.33 8.33M571.3 272.3l8.33 8.33m0 -8.33l-8.33 8.33M572.3 274.3l8.33 8.33m0 -8.33l-8.33 8.33M572.3 274.3l8.33 8.33m0 -8.33l-8.33 8.33M573.3 275.3l8.33 8.33m0 -8.33l-8.33 8.33M573.3 275.3l8.33 8.33m0 -8.33l-8.33 8.33M574.3 274.3l8.33 8.33m0 -8.33l-8.33 8.33M575.3 271.3l8.33 8.33m0 -8.33l-8.33 8.33M575.3 274.3l8.33 8.33m0 -8.33l-8.33 8.33M576.3 275.3l8.33 8.33m0 -8.33l-8.33 8.33M577.3 274.3l8.33 8.33m0 -8.33l-8.33 8.33M577.3 274.3l8.33 8.33m0 -8.33l-8.33 8.33M578.3 276.3l8.33 8.33m0 -8.33l-8.33 8.33M578.3 273.3l8.33 8.33m0 -8.33l-8.33 8.33M579.3 273.3l8.33 8.33m0 -8.33l-8.33 8.33M580.3 273.3l8.33 8.33m0 -8.33l-8.33 8.33M580.3 273.3l8.33 8.33m0 -8.33l-8.33 8.33M581.3 275.3l8.33 8.33m0 -8.33l-8.33 8.33M581.3 276.3l8.33 8.33m0 -8.33l-8.33 8.33M582.3 272.3l8.33 8.33m0 -8.33l-8.33 8.33M583.3 272.3l8.33 8.33m0 -8.33l-8.33 8.33M583.3 275.3l8.33 8.33m0 -8.33l-8.33 8.33M584.3 273.3l8.33 8.33m0 -8.33l-8.33 8.33M585.3 274.3l8.33 8.33m0 -8.33l-8.33 8.33M585.3 273.3l8.33 8.33m0 -8.33l-8.33 8.33M586.3 273.3l8.33 8.33m0 -8.33l-8.33 8.33M586.3 274.3l8.33 8.33m0 -8.33l-8.33 8.33M587.3 273.3l8.33 8.33m0 -8.33l-8.33 8.33M588.3 273.3l8.33 8.33m0 -8.33l-8.33 8.33M588.3 274.3l8.33 8.33m0 -8.33l-8.33 8.33M589.3 276.3l8.33 8.33m0 -8.33l-8.33 8.33M590.3 277.3l8.33 8.33m0 -8.33l-8.33 8.33M590.3 275.3l8.33 8.33m0 -8.33l-8.33 8.33M591.3 276.3l8.33 8.33m0 -8.33l-8.33 8.33M591.3 273.3l8.33 8.33m0 -8.33l-8.33 8.33M592.3 273.3l8.33 8.33m0 -8.33l-8.33 8.33M593.3 260.3l8.33 8.33m0 -8.33l-8.33 8.33M593.3 263.3l8.33 8.33m0 -8.33l-8.33 8.33M594.3 265.3l8.33 8.33m0 -8.33l-8.33 8.33M594.3 267.3l8.33 8.33m0 -8.33l-8.33 8.33M595.3 268.3l8.33 8.33m0 -8.33l-8.33 8.33M596.3 270.3l8.33 8.33m0 -8.33l-8.33 8.33M596.3 269.3l8.33 8.33m0 -8.33l-8.33 8.33M597.3 270.3l8.33 8.33m0 -8.33l-8.33 8.33M598.3 273.3l8.33 8.33m0 -8.33l-8.33 8.33M598.3 271.3l8.33 8.33m0 -8.33l-8.33 8.33M599.3 271.3l8.33 8.33m0 -8.33l-8.33 8.33M599.3 274.3l8.33 8.33m0 -8.33l-8.33 8.33M600.3 273.3l8.33 8.33m0 -8.33l-8.33 8.33M601.3 272.3l8.33 8.33m0 -8.33l-8.33 8.33M601.3 273.3l8.33 8.33m0 -8.33l-8.33 8.33M602.3 272.3l8.33 8.33m0 -8.33l-8.33 8.33M603.3 273.3l8.33 8.33m0 -8.33l-8.33 8.33M603.3 273.3l8.33 8.33m0 -8.33l-8.33 8.33M604.3 274.3l8.33 8.33m0 -8.33l-8.33 8.33M604.3 273.3l8.33 8.33m0 -8.33l-8.33 8.33M605.3 274.3l8.33 8.33m0 -8.33l-8.33 8.33M606.3 273.3l8.33 8.33m0 -8.33l-8.33 8.33M606.3 276.3l8.33 8.33m0 -8.33l-8.33 8.33M607.3 273.3l8.33 8.33m0 -8.33l-8.33 8.33M608.3 272.3l8.33 8.33m0 -8.33l-8.33 8.33M608.3 273.3l8.33 8.33m0 -8.33l-8.33 8.33M609.3 274.3l8.33 8.33m0 -8.33l-8.33 8.33M609.3 273.3l8.33 8.33m0 -8.33l-8.33 8.33M610.3 275.3l8.33 8.33m0 -8.33l-8.33 8.33M611.3 275.3l8.33 8.33m0 -8.33l-8.33 8.33M611.3 274.3l8.33 8.33m0 -8.33l-8.33 8.33M612.3 274.3l8.33 8.33m0 -8.33l-8.33 8.33M612.3 272.3l8.33 8.33m0 -8.33l-8.33 8.33M613.3 275.3l8.33 8.33m0 -8.33l-8.33 8.33M614.3 272.3l8.33 8.33m0 -8.33l-8.33 8.33M614.3 275.3l8.33 8.33m0 -8.33l-8.33 8.33M615.3 274.3l8.33 8.33m0 -8.33l-8.33 8.33M616.3 274.3l8.33 8.33m0 -8.33l-8.33 8.33M616.3 272.3l8.33 8.33m0 -8.33l-8.33 8.33M617.3 274.3l8.33 8.33m0 -8.33l-8.33 8.33M617.3 276.3l8.33 8.33m0 -8.33l-8.33 8.33M618.3 273.3l8.33 8.33m0 -8.33l-8.33 8.33M619.3 274.3l8.33 8.33m0 -8.33l-8.33 8.33M619.3 273.3l8.33 8.33m0 -8.33l-8.33 8.33M620.3 272.3l8.33 8.33m0 -8.33l-8.33 8.33M621.3 272.3l8.33 8.33m0 -8.33l-8.33 8.33M621.3 274.3l8.33 8.33m0 -8.33l-8.33 8.33M622.3 273.3l8.33 8.33m0 -8.33l-8.33 8.33M622.3 274.3l8.33 8.33m0 -8.33l-8.33 8.33M623.3 273.3l8.33 8.33m0 -8.33l-8.33 8.33M624.3 275.3l8.33 8.33m0 -8.33l-8.33 8.33M624.3 273.3l8.33 8.33m0 -8.33l-8.33 8.33M625.3 275.3l8.33 8.33m0 -8.33l-8.33 8.33M625.3 275.3l8.33 8.33m0 -8.33l-8.33 8.33M626.3 274.3l8.33 8.33m0 -8.33l-8.33 8.33M627.3 273.3l8.33 8.33m0 -8.33l-8.33 8.33M627.3 275.3l8.33 8.33m0 -8.33l-8.33 8.33M628.3 274.3l8.33 8.33m0 -8.33l-8.33 8.33M629.3 273.3l8.33 8.33m0 -8.33l-8.33 8.33M629.3 273.3l8.33 8.33m0 -8.33l-8.33 8.33M630.3 275.3l8.33 8.33m0 -8.33l-8.33 8.33M630.3 273.3l8.33 8.33m0 -8.33l-8.33 8.33M631.3 274.3l8.33 8.33m0 -8.33l-8.33 8.33M632.3 272.3l8.33 8.33m0 -8.33l-8.33 8.33M632.3 273.3l8.33 8.33m0 -8.33l-8.33 8.33M633.3 275.3l8.33 8.33m0 -8.33l-8.33 8.33M634.3 276.3l8.33 8.33m0 -8.33l-8.33 8.33M634.3 273.3l8.33 8.33m0 -8.33l-8.33 8.33M635.3 272.3l8.33 8.33m0 -8.33l-8.33 8.33M635.3 273.3l8.33 8.33m0 -8.33l-8.33 8.33M636.3 272.3l8.33 8.33m0 -8.33l-8.33 8.33M637.3 274.3l8.33 8.33m0 -8.33l-8.33 8.33M637.3 275.3l8.33 8.33m0 -8.33l-8.33 8.33M638.3 273.3l8.33 8.33m0 -8.33l-8.33 8.33M639.3 273.3l8.33 8.33m0 -8.33l-8.33 8.33M639.3 273.3l8.33 8.33m0 -8.33l-8.33 8.33M640.3 275.3l8.33 8.33m0 -8.33l-8.33 8.33M640.3 273.3l8.33 8.33m0 -8.33l-8.33 8.33M641.3 274.3l8.33 8.33m0 -8.33l-8.33 8.33M642.3 273.3l8.33 8.33m0 -8.33l-8.33 8.33M642.3 274.3l8.33 8.33m0 -8.33l-8.33 8.33M643.3 274.3l8.33 8.33m0 -8.33l-8.33 8.33M643.3 274.3l8.33 8.33m0 -8.33l-8.33 8.33M644.3 272.3l8.33 8.33m0 -8.33l-8.33 8.33M645.3 274.3l8.33 8.33m0 -8.33l-8.33 8.33M645.3 274.3l8.33 8.33m0 -8.33l-8.33 8.33M646.3 275.3l8.33 8.33m0 -8.33l-8.33 8.33M647.3 275.3l8.33 8.33m0 -8.33l-8.33 8.33M647.3 272.3l8.33 8.33m0 -8.33l-8.33 8.33M648.3 276.3l8.33 8.33m0 -8.33l-8.33 8.33M648.3 275.3l8.33 8.33m0 -8.33l-8.33 8.33M649.3 273.3l8.33 8.33m0 -8.33l-8.33 8.33M650.3 272.3l8.33 8.33m0 -8.33l-8.33 8.33M650.3 274.3l8.33 8.33m0 -8.33l-8.33 8.33M651.3 273.3l8.33 8.33m0 -8.33l-8.33 8.33M652.3 273.3l8.33 8.33m0 -8.33l-8.33 8.33M652.3 272.3l8.33 8.33m0 -8.33l-8.33 8.33M653.3 274.3l8.33 8.33m0 -8.33l-8.33 8.33M653.3 272.3l8.33 8.33m0 -8.33l-8.33 8.33M654.3 273.3l8.33 8.33m0 -8.33l-8.33 8.33M655.3 311.3l8.33 8.33m0 -8.33l-8.33 8.33M655.3 310.3l8.33 8.33m0 -8.33l-8.33 8.33M656.3 307.3l8.33 8.33m0 -8.33l-8.33 8.33M656.3 309.3l8.33 8.33m0 -8.33l-8.33 8.33M657.3 307.3l8.33 8.33m0 -8.33l-8.33 8.33M658.3 304.3l8.33 8.33m0 -8.33l-8.33 8.33M658.3 305.3l8.33 8.33m0 -8.33l-8.33 8.33M659.3 302.3l8.33 8.33m0 -8.33l-8.33 8.33M660.3 301.3l8.33 8.33m0 -8.33l-8.33 8.33M660.3 300.3l8.33 8.33m0 -8.33l-8.33 8.33M661.3 299.3l8.33 8.33m0 -8.33l-8.33 8.33M661.3 296.3l8.33 8.33m0 -8.33l-8.33 8.33M662.3 293.3l8.33 8.33m0 -8.33l-8.33 8.33M663.3 292.3l8.33 8.33m0 -8.33l-8.33 8.33M663.3 291.3l8.33 8.33m0 -8.33l-8.33 8.33M664.3 290.3l8.33 8.33m0 -8.33l-8.33 8.33M665.3 287.3l8.33 8.33m0 -8.33l-8.33 8.33M665.3 286.3l8.33 8.33m0 -8.33l-8.33 8.33M666.3 284.3l8.33 8.33m0 -8.33l-8.33 8.33M666.3 285.3l8.33 8.33m0 -8.33l-8.33 8.33M667.3 282.3l8.33 8.33m0 -8.33l-8.33 8.33M668.3 282.3l8.33 8.33m0 -8.33l-8.33 8.33M668.3 280.3l8.33 8.33m0 -8.33l-8.33 8.33M669.3 279.3l8.33 8.33m0 -8.33l-8.33 8.33M670.3 280.3l8.33 8.33m0 -8.33l-8.33 8.33M670.3 278.3l8.33 8.33m0 -8.33l-8.33 8.33M671.3 277.3l8.33 8.33m0 -8.33l-8.33 8.33M671.3 277.3l8.33 8.33m0 -8.33l-8.33 8.33M672.3 276.3l8.33 8.33m0 -8.33l-8.33 8.33M673.3 277.3l8.33 8.33m0 -8.33l-8.33 8.33M673.3 277.3l8.33 8.33m0 -8.33l-8.33 8.33M674.3 277.3l8.33 8.33m0 -8.33l-8.33 8.33M674.3 276.3l8.33 8.33m0 -8.33l-8.33 8.33M675.3 274.3l8.33 8.33m0 -8.33l-8.33 8.33M676.3 275.3l8.33 8.33m0 -8.33l-8.33 8.33M676.3 275.3l8.33 8.33m0 -8.33l-8.33 8.33M677.3 276.3l8.33 8.33m0 -8.33l-8.33 8.33M678.3 274.3l8.33 8.33m0 -8.33l-8.33 8.33M678.3 275.3l8.33 8.33m0 -8.33l-8.33 8.33M679.3 276.3l8.33 8.33m0 -8.33l-8.33 8.33M679.3 276.3l8.33 8.33m0 -8.33l-8.33 8.33M680.3 275.3l8.33 8.33m0 -8.33l-8.33 8.33M681.3 275.3l8.33 8.33m0 -8.33l-8.33 8.33M681.3 273.3l8.33 8.33m0 -8.33l-8.33 8.33M682.3 274.3l8.33 8.33m0 -8.33l-8.33 8.33M683.3 275.3l8.33 8.33m0 -8.33l-8.33 8.33M683.3 274.3l8.33 8.33m0 -8.33l-8.33 8.33M684.3 272.3l8.33 8.33m0 -8.33l-8.33 8.33M684.3 275.3l8.33 8.33m0 -8.33l-8.33 8.33M685.3 273.3l8.33 8.33m0 -8.33l-8.33 8.33M686.3 273.3l8.33 8.33m0 -8.33l-8.33 8.33M686.3 272.3l8.33 8.33m0 -8.33l-8.33 8.33M687.3 273.3l8.33 8.33m0 -8.33l-8.33 8.33M687.3 274.3l8.33 8.33m0 -8.33l-8.33 8.33M688.3 273.3l8.33 8.33m0 -8.33l-8.33 8.33M689.3 274.3l8.33 8.33m0 -8.33l-8.33 8.33M689.3 273.3l8.33 8.33m0 -8.33l-8.33 8.33M690.3 274.3l8.33 8.33m0 -8.33l-8.33 8.33M691.3 272.3l8.33 8.33m0 -8.33l-8.33 8.33M691.3 274.3l8.33 8.33m0 -8.33l-8.33 8.33M692.3 273.3l8.33 8.33m0 -8.33l-8.33 8.33M692.3 274.3l8.33 8.33m0 -8.33l-8.33 8.33M693.3 274.3l8.33 8.33m0 -8.33l-8.33 8.33M694.3 274.3l8.33 8.33m0 -8.33l-8.33 8.33M694.3 273.3l8.33 8.33m0 -8.33l-8.33 8.33M695.3 273.3l8.33 8.33m0 -8.33l-8.33 8.33M696.3 274.3l8.33 8.33m0 -8.33l-8.33 8.33M696.3 274.3l8.33 8.33m0 -8.33l-8.33 8.33M697.3 273.3l8.33 8.33m0 -8.33l-8.33 8.33M697.3 274.3l8.33 8.33m0 -8.33l-8.33 8.33M698.3 274.3l8.33 8.33m0 -8.33l-8.33 8.33M699.3 272.3l8.33 8.33m0 -8.33l-8.33 8.33M699.3 273.3l8.33 8.33m0 -8.33l-8.33 8.33M700.3 276.3l8.33 8.33m0 -8.33l-8.33 8.33M701.3 274.3l8.33 8.33m0 -8.33l-8.33 8.33M701.3 273.3l8.33 8.33m0 -8.33l-8.33 8.33M702.3 273.3l8.33 8.33m0 -8.33l-8.33 8.33M702.3 274.3l8.33 8.33m0 -8.33l-8.33 8.33M703.3 272.3l8.33 8.33m0 -8.33l-8.33 8.33M704.3 274.3l8.33 8.33m0 -8.33l-8.33 8.33M704.3 274.3l8.33 8.33m0 -8.33l-8.33 8.33M705.3 274.3l8.33 8.33m0 -8.33l-8.33 8.33M705.3 273.3l8.33 8.33m0 -8.33l-8.33 8.33M706.3 272.3l8.33 8.33m0 -8.33l-8.33 8.33M707.3 273.3l8.33 8.33m0 -8.33l-8.33 8.33M707.3 272.3l8.33 8.33m0 -8.33l-8.33 8.33M708.3 275.3l8.33 8.33m0 -8.33l-8.33 8.33M709.3 274.3l8.33 8.33m0 -8.33l-8.33 8.33M709.3 274.3l8.33 8.33m0 -8.33l-8.33 8.33M710.3 273.3l8.33 8.33m0 -8.33l-8.33 8.33M710.3 273.3l8.33 8.33m0 -8.33l-8.33 8.33M711.3 276.3l8.33 8.33m0 -8.33l-8.33 8.33M712.3 270.3l8.33 8.33m0 -8.33l-8.33 8.33M712.3 275.3l8.33 8.33m0 -8.33l-8.33 8.33M713.3 273.3l8.33 8.33m0 -8.33l-8.33 8.33M714.3 272.3l8.33 8.33m0 -8.33l-8.33 8.33M714.3 272.3l8.33 8.33m0 -8.33l-8.33 8.33M715.3 273.3l8.33 8.33m0 -8.33l-8.33 8.33M715.3 277.3l8.33 8.33m0 -8.33l-8.33 8.33M716.3 275.3l8.33 8.33m0 -8.33l-8.33 8.33"/>
<path fill="none" stroke="#000" stroke-width="0.7" d="M100.5 540.5h6.00M720.5 540.5h-6.00M100.5 453.5h6.00M720.5 453.5h-6.00M100.5 365.5h6.00M720.5 365.5h-6.00M100.5 278.5h6.00M720.5 278.5h-6.00M100.5 191.5h6.00M720.5 191.5h-6.00M100.5 104.5h6.00M720.5 104.5h-6.00M100.5 540.5v-6.00M100.5 60.5v6.00M224.5 540.5v-6.00M224.5 60.5v6.00M348.5 540.5v-6.00M348.5 60.5v6.00M472.5 540.5v-6.00M472.5 60.5v6.00M596.5 540.5v-6.00M596.5 60.5v6.00M720.5 540.5v-6.00M720.5 60.5v6.00"/>
<rect x="100.5" y="60.5" width="620" height="480" fill="none" stroke="#000" stroke-width="1.39"/>
<text transform="translate(0,53.20) scale(1.060,1)" x="284.60 299.53 304.53 316.97 329.33 340.10 352.23 357.23 366.42 373.21 378.76 396.70 408.01 413.01 420.00 430.83 447.35 461.78 473.58 479.77" y="0" font-size="20.40">we over time, zw=0.3</text>
<text transform="translate(406.52,583.80) scale(1.200,1)" font-size="20.00">t</text>
<text transform="translate(57.82,311.00) rotate(-90) scale(0.939,1)" font-size="18.18">we</text>
<text transform="translate(0,108.76) scale(0.987,1)" x="71.54 80.60 86.26" y="0" font-size="17.80">0.5</text>
<text transform="translate(0,195.76) scale(0.987,1)" x="70.53 79.59 84.77" y="0" font-size="17.80">0.4</text>
<text transform="translate(0,282.76) scale(0.987,1)" x="70.53 79.59 85.28" y="0" font-size="17.80">0.3</text>
<text transform="translate(0,369.76) scale(0.987,1)" x="71.54 80.60 86.23" y="0" font-size="17.80">0.2</text>
<text transform="translate(0,457.76) scale(0.987,1)" x="71.54 80.60 85.98" y="0" font-size="17.80">0.1</text>
<text transform="translate(0,544.76) scale(0.987,1)" x="70.53 79.59 85.22" y="0" font-size="17.80">0.0</text>
<text transform="translate(0,559.76) scale(0.987,1)" x="96.87" y="0" font-size="17.80">0</text>
<text transform="translate(0,559.76) scale(0.987,1)" x="200.72 210.85 221.49 232.13 242.77" y="0" font-size="17.80">20000</text>
<text transform="translate(0,559.76) scale(0.987,1)" x="326.92 336.48 347.12 357.76 368.40" y="0" font-size="17.80">40000</text>
<text transform="translate(0,559.76) scale(0.987,1)" x="452.43 462.12 472.76 483.39 494.03" y="0" font-size="17.80">60000</text>
<text transform="translate(0,559.76) scale(0.987,1)" x="577.62 587.75 598.39 609.03 619.67" y="0" font-size="17.80">80000</text>
<text transform="translate(0,559.76) scale(0.987,1)" x="698.45 708.32 718.96 729.59 740.23 750.87" y="0" font-size="17.80">100000</text>
</svg>
</body></html>
